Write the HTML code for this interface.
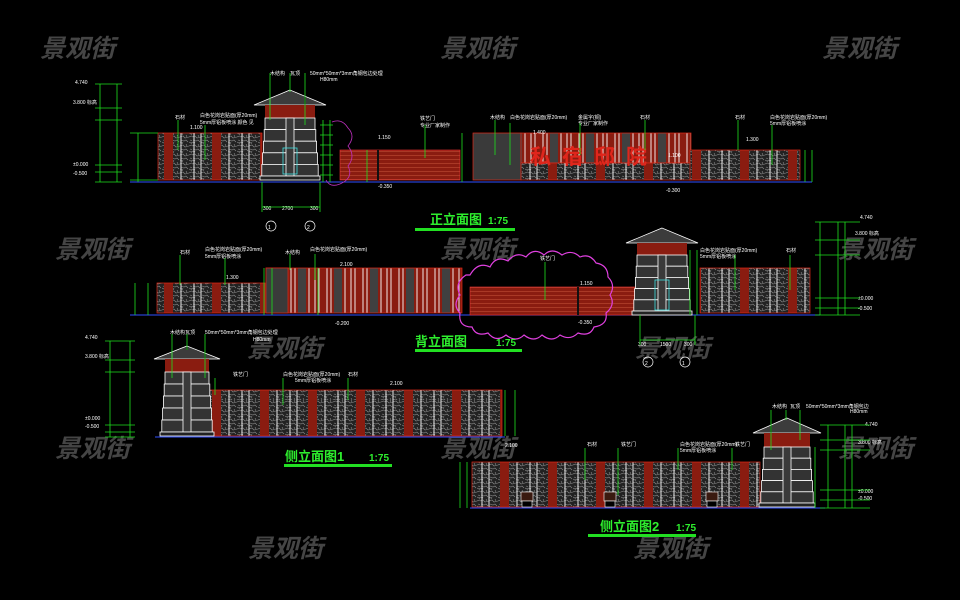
<!DOCTYPE html>
<html><head><meta charset="utf-8"><style>
html,body{margin:0;padding:0;background:#000;width:960px;height:600px;overflow:hidden}
svg{display:block}
.t{font-family:"Liberation Sans","Noto Sans CJK SC",sans-serif;fill:#fff;font-size:5px}
.wm{font-family:"Liberation Sans","Noto Sans CJK SC",sans-serif;font-size:25px;fill:#454545;font-style:italic;font-weight:bold}
.ti{font-family:"Liberation Sans","Noto Sans CJK SC",sans-serif;font-size:13px;fill:#2ef02e;font-weight:bold}
.sc{font-family:"Liberation Sans",sans-serif;font-size:10px;fill:#2ef02e;font-weight:bold}
</style></head><body>
<svg width="960" height="600" viewBox="0 0 960 600" xmlns="http://www.w3.org/2000/svg">
<defs>
<pattern id="stone" width="9" height="9" patternUnits="userSpaceOnUse">
<rect width="9" height="9" fill="#222"/>
<path d="M0 2 L3 1 L5 3 L9 2 M1 5 L4 6 L6 5 L8 7 M2 9 L3 7 M6 0 L7 2 M0 7 L2 8" stroke="#8a8a8a" stroke-width="0.6" fill="none"/>
</pattern>
<pattern id="wa" width="48" height="200" patternUnits="userSpaceOnUse">
<rect width="48" height="200" fill="url(#stone)"/>
<rect x="20" width="9" height="200" fill="#8a1c10"/>
<line x1="2" y1="0" x2="2" y2="200" stroke="#fff" stroke-width="0.9"/>
<line x1="9" y1="0" x2="9" y2="200" stroke="#fff" stroke-width="0.9"/>
<line x1="37" y1="0" x2="37" y2="200" stroke="#fff" stroke-width="0.9"/>
</pattern>
<pattern id="wb" width="36" height="200" patternUnits="userSpaceOnUse">
<rect width="36" height="200" fill="#8a1c10"/>
<rect x="10" width="8" height="200" fill="#404040"/>
<line x1="3" y1="0" x2="3" y2="200" stroke="#fff" stroke-width="0.9"/>
<line x1="7" y1="0" x2="7" y2="200" stroke="#fff" stroke-width="0.9"/>
<line x1="21" y1="0" x2="21" y2="200" stroke="#fff" stroke-width="0.9"/>
<line x1="27" y1="0" x2="27" y2="200" stroke="#fff" stroke-width="0.9"/>
<line x1="31" y1="0" x2="31" y2="200" stroke="#fff" stroke-width="0.9"/>
</pattern>
<pattern id="planks" width="10" height="4" patternUnits="userSpaceOnUse">
<rect width="10" height="4" fill="#8a1c10"/>
<line x1="0" y1="3.5" x2="10" y2="3.5" stroke="#c8553c" stroke-width="0.5"/>
</pattern>
<pattern id="roof" width="2" height="10" patternUnits="userSpaceOnUse">
<rect width="2" height="10" fill="#111"/><line x1="1" y1="0" x2="1" y2="10" stroke="#bbb" stroke-width="0.5"/>
</pattern>
</defs>

<g class="wm">
<text x="40" y="57">景观街</text><text x="440" y="57">景观街</text><text x="822" y="57">景观街</text>
<text x="55" y="258">景观街</text><text x="440" y="258">景观街</text><text x="838" y="258">景观街</text>
<text x="55" y="457">景观街</text><text x="440" y="457">景观街</text><text x="838" y="457">景观街</text>
<text x="248" y="557">景观街</text><text x="633" y="557">景观街</text>
<text x="247" y="357">景观街</text><text x="635" y="357">景观街</text>
</g>

<g stroke="#e02818" stroke-width="0.7">
<rect x="158" y="133" width="104" height="47" fill="url(#wa)"/>
<rect x="473" y="133" width="48" height="47" fill="#3a3a3a"/>
<rect x="521" y="133" width="170" height="30" fill="url(#wb)"/>
<rect x="521" y="163" width="170" height="17" fill="url(#wa)"/>
<rect x="690" y="150" width="110" height="30" fill="url(#wa)"/>
<rect x="157" y="283" width="108" height="30" fill="url(#wa)"/>
<rect x="266" y="268" width="196" height="45" fill="url(#wb)"/>
<rect x="266" y="268" width="22" height="45" fill="#3a3a3a"/>
<rect x="700" y="268" width="110" height="45" fill="url(#wa)"/>
<rect x="200" y="390" width="302" height="46" fill="url(#wa)"/>
<rect x="472" y="462" width="288" height="45" fill="url(#wa)"/>
</g>
<g stroke="#fff" stroke-width="0.6">
<rect x="521" y="492" width="12" height="9" fill="#3a1a10"/><rect x="522" y="501" width="10" height="6" fill="#000"/>
<rect x="604" y="492" width="12" height="9" fill="#3a1a10"/><rect x="605" y="501" width="10" height="6" fill="#000"/>
<rect x="706" y="492" width="12" height="9" fill="#3a1a10"/><rect x="707" y="501" width="10" height="6" fill="#000"/>
</g>

<g stroke="#3050ff" stroke-width="1">
<line x1="130" y1="182" x2="812" y2="182"/>
<line x1="130" y1="315" x2="820" y2="315"/>
<line x1="155" y1="437" x2="505" y2="437"/>
<line x1="470" y1="508" x2="825" y2="508"/>
</g>

<rect x="340" y="150" width="120" height="30" fill="url(#planks)" stroke="#e33" stroke-width="0.6"/>
<line x1="378" y1="150" x2="378" y2="180" stroke="#111" stroke-width="2"/>
<text x="530" y="164" font-family="Noto Sans CJK SC,sans-serif" font-size="21" fill="#e0261c" font-weight="bold" letter-spacing="11">私宿邸院</text>

<rect x="470" y="287" width="180" height="28" fill="url(#planks)" stroke="#e33" stroke-width="0.6"/>
<line x1="578" y1="287" x2="578" y2="315" stroke="#111" stroke-width="2"/>
<path d="M470 275 q8 -14 20 -8 q6 -12 18 -6 q8 -10 18 -4 q8 -10 18 -2 q8 -8 18 0 q10 -6 18 2 q10 -4 16 6 q12 2 12 14 q8 8 2 18 q6 10 -4 18 q2 12 -12 14 q-4 10 -16 6 q-8 8 -18 2 q-8 8 -18 0 q-8 8 -18 0 q-8 8 -18 0 q-10 8 -18 -2 q-12 4 -16 -6 q-14 0 -12 -14 q-8 -8 0 -18 q-6 -12 6 -20 z" fill="none" stroke="#e040e0" stroke-width="1.2"/>
<path d="M332 122 q10 -4 16 6 q8 8 0 18 q8 10 0 20 q6 12 -8 18 q-10 4 -14 -4" fill="none" stroke="#c030c0" stroke-width="0.8"/>

<g stroke="#fff" stroke-width="0.8">
<polygon points="290,90 254,105 326,105" fill="url(#roof)"/>
<rect x="265" y="105" width="50" height="13" fill="#8a1c10" stroke="none"/>
<rect x="265" y="118" width="50" height="11.6" fill="#333"/><rect x="264.2" y="129.6" width="51.6" height="11.6" fill="#333"/><rect x="263.4" y="141.2" width="53.2" height="11.6" fill="#333"/><rect x="262.6" y="152.8" width="54.8" height="11.6" fill="#333"/><rect x="261.8" y="164.4" width="56.4" height="11.6" fill="#333"/>
<rect x="286" y="118" width="8" height="58" fill="#3a3a3a"/><rect x="260" y="176" width="60" height="4" fill="#222"/>
<rect x="283" y="148" width="14" height="26" fill="none" stroke="#40e0e0"/>

<polygon points="662,228 626,243 698,243" fill="url(#roof)"/>
<rect x="637" y="243" width="50" height="12" fill="#8a1c10" stroke="none"/>
<rect x="637" y="255" width="50" height="11.2" fill="#333"/><rect x="636.2" y="266.2" width="51.6" height="11.2" fill="#333"/><rect x="635.4" y="277.4" width="53.2" height="11.2" fill="#333"/><rect x="634.6" y="288.6" width="54.8" height="11.2" fill="#333"/><rect x="633.8" y="299.8" width="56.4" height="11.2" fill="#333"/>
<rect x="658" y="255" width="8" height="56" fill="#3a3a3a"/><rect x="632" y="311" width="60" height="4" fill="#222"/>
<rect x="655" y="280" width="14" height="30" fill="none" stroke="#40e0e0"/>

<polygon points="187,346 154,359 220,359" fill="url(#roof)"/>
<rect x="165" y="359" width="44" height="13" fill="#8a1c10" stroke="none"/>
<rect x="165" y="372" width="44" height="12" fill="#333"/><rect x="164.2" y="384" width="45.6" height="12" fill="#333"/><rect x="163.4" y="396" width="47.2" height="12" fill="#333"/><rect x="162.6" y="408" width="48.8" height="12" fill="#333"/><rect x="161.8" y="420" width="50.4" height="12" fill="#333"/>
<rect x="183" y="372" width="8" height="60" fill="#3a3a3a"/><rect x="160" y="432" width="54" height="4" fill="#222"/>

<polygon points="787,418 753,433 821,433" fill="url(#roof)"/>
<rect x="764" y="433" width="46" height="14" fill="#8a1c10" stroke="none"/>
<rect x="764" y="447" width="46" height="11.2" fill="#333"/><rect x="763.2" y="458.2" width="47.6" height="11.2" fill="#333"/><rect x="762.4" y="469.4" width="49.2" height="11.2" fill="#333"/><rect x="761.6" y="480.6" width="50.8" height="11.2" fill="#333"/><rect x="760.8" y="491.8" width="52.4" height="11.2" fill="#333"/>
<rect x="783" y="447" width="8" height="56" fill="#3a3a3a"/><rect x="759" y="503" width="56" height="4" fill="#222"/>
</g>

<text class="ti" x="430" y="224">正立面图</text><text class="sc" x="488" y="224">1:75</text>
<rect x="415" y="228" width="100" height="3" fill="#22e022"/>
<text class="ti" x="415" y="346">背立面图</text><text class="sc" x="496" y="346">1:75</text>
<rect x="415" y="349" width="107" height="3" fill="#22e022"/>
<text class="ti" x="285" y="461">侧立面图1</text><text class="sc" x="369" y="461">1:75</text>
<rect x="284" y="464" width="108" height="3" fill="#22e022"/>
<text class="ti" x="600" y="531">侧立面图2</text><text class="sc" x="676" y="531">1:75</text>
<rect x="588" y="534" width="108" height="3" fill="#22e022"/>

<g class="t">
<text x="75" y="84">4.740</text><text x="73" y="104">3.800 标高</text><text x="73" y="166">±0.000</text><text x="73" y="175">-0.500</text>
<text x="270" y="75">木结构</text><text x="290" y="75">瓦顶</text><text x="310" y="75">50mm*50mm*3mm角钢包边处理</text><text x="320" y="81">H80mm</text>
<text x="175" y="119">石材</text><text x="200" y="117">白色花岗岩贴面(厚20mm)</text><text x="200" y="124">5mm厚铝板喷涂 颜色 见</text>
<text x="190" y="129">1.100</text><text x="378" y="139">1.150</text><text x="378" y="188">-0.350</text>
<text x="420" y="120">铁艺门</text><text x="420" y="127">专业厂家制作</text>
<text x="490" y="119">木结构</text><text x="510" y="119">白色花岗岩贴面(厚20mm)</text><text x="578" y="119">金属字(铜)</text><text x="578" y="125">专业厂家制作</text>
<text x="640" y="119">石材</text><text x="735" y="119">石材</text><text x="770" y="119">白色花岗岩贴面(厚20mm)</text><text x="770" y="125">5mm厚铝板喷涂</text>
<text x="533" y="134">1.400</text><text x="746" y="141">1.300</text><text x="668" y="157">1.100</text><text x="666" y="192">-0.300</text>
<text x="263" y="210">300</text><text x="282" y="210">2700</text><text x="310" y="210">300</text>
<text x="180" y="254">石材</text><text x="205" y="251">白色花岗岩贴面(厚20mm)</text><text x="205" y="258">5mm厚铝板喷涂</text><text x="285" y="254">木结构</text><text x="310" y="251">白色花岗岩贴面(厚20mm)</text>
<text x="226" y="279">1.300</text><text x="340" y="266">2.100</text><text x="335" y="325">-0.200</text>
<text x="540" y="260">铁艺门</text><text x="580" y="285">1.150</text><text x="578" y="324">-0.350</text>
<text x="700" y="252">白色花岗岩贴面(厚20mm)</text><text x="700" y="258">5mm厚铝板喷涂</text><text x="786" y="252">石材</text>
<text x="860" y="219">4.740</text><text x="855" y="235">3.800 标高</text><text x="858" y="300">±0.000</text><text x="858" y="310">-0.500</text>
<text x="638" y="346">300</text><text x="660" y="346">1500</text><text x="684" y="346">300</text>
<text x="85" y="339">4.740</text><text x="85" y="358">3.800 标高</text><text x="85" y="420">±0.000</text><text x="85" y="428">-0.500</text>
<text x="170" y="334">木结构</text><text x="185" y="334">瓦顶</text><text x="205" y="334">50mm*50mm*3mm角钢包边处理</text><text x="253" y="341">H80mm</text>
<text x="233" y="376">铁艺门</text><text x="283" y="376">白色花岗岩贴面(厚20mm)</text><text x="295" y="382">5mm厚铝板喷涂</text><text x="348" y="376">石材</text><text x="390" y="385">2.100</text>
<text x="505" y="447">2.100</text><text x="587" y="446">石材</text><text x="621" y="446">铁艺门</text><text x="680" y="446">白色花岗岩贴面(厚20mm)</text><text x="680" y="452">5mm厚铝板喷涂</text><text x="735" y="446">铁艺门</text>
<text x="772" y="408">木结构</text><text x="790" y="408">瓦顶</text><text x="806" y="408">50mm*50mm*3mm角钢包边</text><text x="850" y="413">H80mm</text>
<text x="865" y="426">4.740</text><text x="858" y="444">3.800 标高</text><text x="858" y="493">±0.000</text><text x="858" y="500">-0.500</text>
</g>

<path fill="none" stroke="#1ee01e" stroke-width="0.8" d="
M100 84 V182 M117 84 V182 M95 84 H122 M95 108 H122 M95 120 H122 M95 165 H122 M95 172 H122 M95 182 H122
M138 133 V182 M130 133 H158 M130 180 H158
M270 73 V120 M290 73 V92 M305 73 V125
M178 120 V150 M205 125 V160 M495 120 V155 M510 123 V165 M580 123 V155 M645 120 V150 M738 120 V150 M772 125 V165 M425 125 V158
M323 120 V182 M330 120 V182 M320 125 H333 M320 135 H333 M320 145 H333 M320 155 H333 M320 165 H333 M320 175 H333
M367 150 V182 M462 133 V182 M805 150 V182 M812 150 V182
M262 182 V212 M320 182 V212 M262 207 H320
M135 283 V315 M148 283 V315 M264 268 V315 M272 268 V315 M318 268 V315
M820 222 V315 M838 222 V315 M845 222 V315 M815 222 H860 M815 240 H860 M815 255 H860 M815 298 H860 M815 308 H860 M815 315 H860
M690 250 V315 M697 250 V315 M640 315 V345 M695 315 V345 M640 340 H695
M180 255 V285 M225 258 V285 M290 254 V270 M315 254 V280 M545 262 V300 M735 255 V290 M790 255 V290
M110 341 V437 M130 341 V437 M105 341 H135 M105 360 H135 M105 372 H135 M105 425 H135 M105 432 H135 M105 437 H135
M505 390 V436 M515 390 V436 M172 334 V378 M187 334 V350 M205 334 V378
M215 378 V395 M283 378 V405 M348 378 V400
M460 462 V508 M467 462 V508 M828 425 V508 M845 425 V508 M852 425 V508 M820 425 H870 M820 440 H870 M820 450 H870 M820 490 H870 M820 500 H870 M820 508 H870
M815 447 V508 M585 448 V480 M618 448 V495 M678 448 V470 M732 448 V470 M771 410 V450 M786 410 V420 M800 410 V440"/>

<g fill="none" stroke="#fff" stroke-width="0.7">
<circle cx="271" cy="226" r="5"/><circle cx="310" cy="226" r="5"/>
<circle cx="648" cy="362" r="5"/><circle cx="685" cy="362" r="5"/>
</g>
<g class="t" font-size="7"><text x="268" y="229">1</text><text x="307" y="229">2</text><text x="645" y="365">2</text><text x="682" y="365">1</text></g>
</svg>
</body></html>
